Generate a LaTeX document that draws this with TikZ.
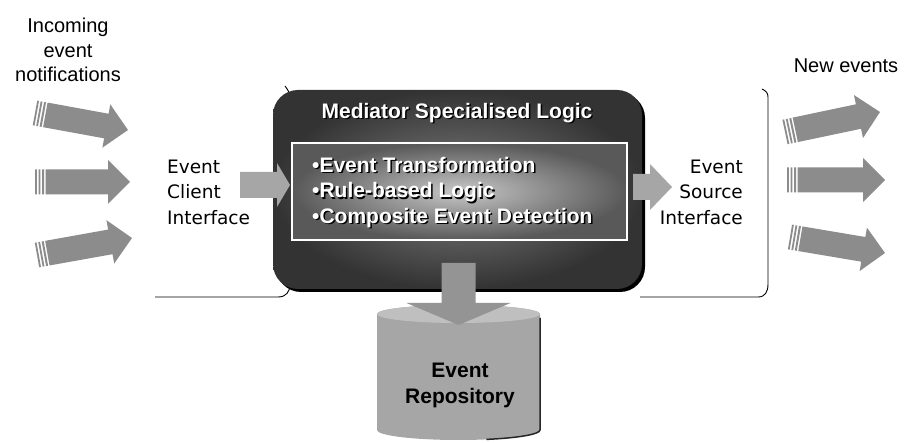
\documentclass[tikz,border=0pt]{standalone}
\usepackage{fontspec}
\setmainfont{Liberation Sans}
\newfontfamily\verd{DejaVu Sans}
\usetikzlibrary{calc}
\newcommand\blockarr[7]{%
  \path let \p1=($(#2)-(#1)$) in \pgfextra{\pgfmathsetmacro\tmpang{atan2(\y1,\x1)}\pgfmathsetmacro\tmplen{veclen(\x1,\y1)}\xdef\arang{\tmpang}\xdef\arlen{\tmplen}};
  \begin{scope}[shift={(#1)},rotate=\arang,x=1pt,y=1pt]
    \pgfmathsetmacro\hb{\arlen-#6}
    \ifnum#7=1
      \fill[#3] (0,-#4) rectangle (1.8,#4) (3.5,-#4) rectangle (5.3,#4) (7,-#4) rectangle (9,#4);
      \fill[#3] (10.5,-#4) -- (\hb,-#4) -- (\hb,-#5) -- (\arlen,0) -- (\hb,#5) -- (\hb,#4) -- (10.5,#4) -- cycle;
    \else
      \fill[#3] (0,-#4) -- (\hb,-#4) -- (\hb,-#5) -- (\arlen,0) -- (\hb,#5) -- (\hb,#4) -- (0,#4) -- cycle;
    \fi
  \end{scope}}
\tikzset{
  lbl/.style={font=\fontsize{20}{24.5}\selectfont, align=center, inner sep=0pt},
  ifc/.style={font=\verd\fontsize{18.5}{25.5}\selectfont, inner sep=0pt},
  boldw/.style={font=\bfseries\fontsize{21}{25.5}\selectfont, text=white, inner sep=0pt},
  bolds/.style={font=\bfseries\fontsize{21}{25.5}\selectfont, text=black, inner sep=0pt},
  bracket/.style={draw=black, line width=0.9pt},
}
\begin{document}
\begin{tikzpicture}[x=1pt,y=-1pt]
\useasboundingbox (0,0) rectangle (905,443);
\fill[white] (0,0) rectangle (905,443);

% texts outside
\node[lbl] (inc) at (68,50) {Incoming\\event\\notifications};
\node[lbl] (newev) at (846,66) {New events};

% brackets (behind the box)
\draw[bracket] (155,297) -- (278,297) .. controls (286,297) and (290,292) .. (290,284) -- (290,98) .. controls (290,93) and (288,90) .. (285,86);
\draw[bracket] (640,297) -- (758,297) .. controls (765,297) and (768,292) .. (768,284) -- (768,97) .. controls (768,93) and (766,91) .. (762,89);

% incoming and outgoing arrows
\coordinate (lt1) at (35,113);  \coordinate (lh1) at (128,130);
\coordinate (lt2) at (35,182);  \coordinate (lh2) at (130,182);
\coordinate (lt3) at (37,255);  \coordinate (lh3) at (132,238);
\coordinate (rt1) at (785,132); \coordinate (rh1) at (880,112);
\coordinate (rt2) at (787,180); \coordinate (rh2) at (885,180);
\coordinate (rt3) at (790,237); \coordinate (rh3) at (885,253);
\blockarr{lt1}{lh1}{black!45}{12.5}{22}{22}{1}
\blockarr{lt2}{lh2}{black!45}{12.5}{22}{22}{1}
\blockarr{lt3}{lh3}{black!45}{12.5}{22}{22}{1}
\blockarr{rt1}{rh1}{black!45}{12.5}{22}{22}{1}
\blockarr{rt2}{rh2}{black!45}{12.5}{22}{22}{1}
\blockarr{rt3}{rh3}{black!45}{12.5}{22}{22}{1}

% main box
\fill[black, rounded corners=25pt] (276,93) rectangle (645,292);
\node[draw=none, rounded corners=25pt, minimum width=369pt, minimum height=199pt, inner sep=0pt,
      inner color=black!50, outer color=black!80] (med) at (457.5,189.5) {};
\node[bolds] (titleS) at (458.5,114.5) {Mediator Specialised Logic};
\node[boldw] (title) at (457,113) {Mediator Specialised Logic};
\node[draw=white, line width=1.5pt, minimum width=335pt, minimum height=97pt, inner sep=0pt,
      inner color=black!22, outer color=black!65] (inner) at (459.5,191.5) {};
\node[bolds, align=left, anchor=west] (logicS) at (313.5,194) {•Event Transformation\\•Rule-based Logic\\•Composite Event Detection};
\node[boldw, align=left, anchor=west] (logic) at (312,192.5) {•Event Transformation\\•Rule-based Logic\\•Composite Event Detection};

% interface labels
\node[ifc, align=left, anchor=west] (eci) at (167,192) {Event\\Client\\Interface};
\node[ifc, align=right, anchor=east] (esi) at (743,192) {Event\\Source\\Interface};

% interface arrows
\coordinate (ct) at (240,185); \coordinate (ch) at (290,185);
\coordinate (st) at (633,187); \coordinate (sh) at (672,187);
\blockarr{ct}{ch}{black!35}{13}{22}{13}{0}
\blockarr{st}{sh}{black!35}{13}{23}{22}{0}

% repository
\fill[black!35] (377,314) -- (377,430) arc (180:360:81.5pt and 10pt) -- (540,314) arc (0:180:81.5pt and 9pt) -- cycle;
\draw[black!85, line width=1.5pt] (540,318) -- (540,430) arc (0:-70:81.5pt and 10pt);
\fill[black!25] (458.5,314) ellipse [x radius=81.5pt, y radius=9pt];
\coordinate (vt) at (458.5,263); \coordinate (vh) at (458.5,325);
\blockarr{vt}{vh}{black!42}{17}{52}{22}{0}
\node[bolds, align=center, font=\bfseries\fontsize{21}{26}\selectfont] (repo) at (460,385) {Event\\Repository};
\end{tikzpicture}
\end{document}
